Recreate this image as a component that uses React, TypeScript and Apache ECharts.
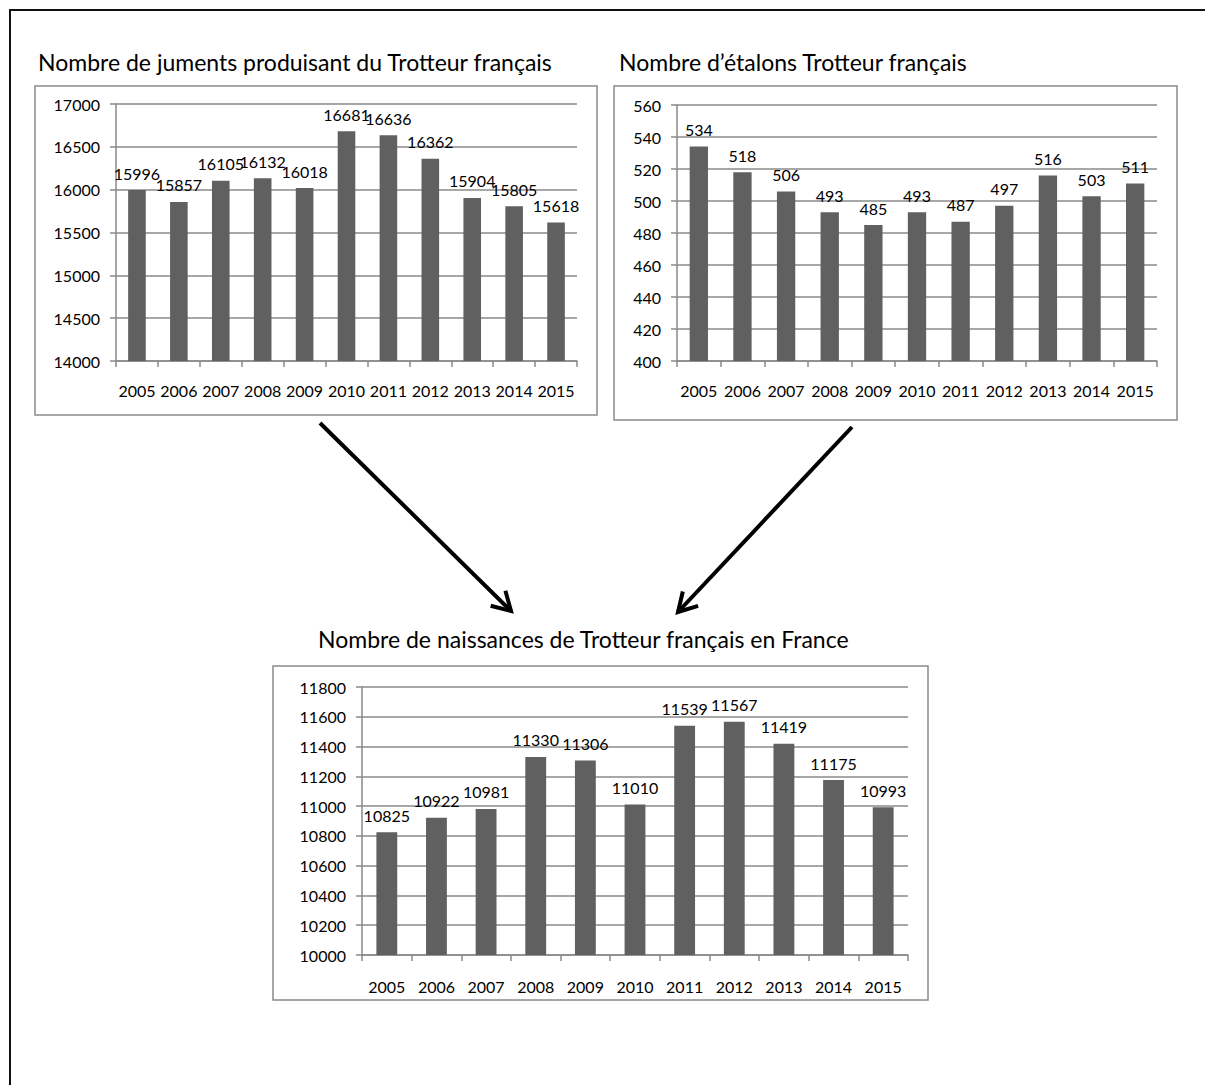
import React, { useEffect, useRef } from "react";
import * as echarts from "echarts";

const years = ["2005", "2006", "2007", "2008", "2009", "2010", "2011", "2012", "2013", "2014", "2015"];
const juments = [15996, 15857, 16105, 16132, 16018, 16681, 16636, 16362, 15904, 15805, 15618];
const etalons = [534, 518, 506, 493, 485, 493, 487, 497, 516, 503, 511];
const naissances = [10825, 10922, 10981, 11330, 11306, 11010, 11539, 11567, 11419, 11175, 10993];

const titleJuments = "Nombre de juments produisant du Trotteur français";
const titleEtalons = "Nombre d’étalons Trotteur français";
const titleNaissances = "Nombre de naissances de Trotteur français en France";

const axisMins = [14000, 400, 10000];
const axisMaxs = [17000, 560, 11800];
const axisSteps = [500, 20, 200];

const FONT = "Lato, 'Open Sans', sans-serif";
const GRID_COLOR = "#8a8a8a";
const BAR_COLOR = "#606060";
const LABEL_SIZE = 16;

function arrowHead(x1: number, y1: number, x2: number, y2: number, len: number, angDeg: number) {
  const dx = x1 - x2;
  const dy = y1 - y2;
  const d = Math.sqrt(dx * dx + dy * dy);
  const ux = dx / d;
  const uy = dy / d;
  const a = (angDeg * Math.PI) / 180;
  const c = Math.cos(a);
  const s = Math.sin(a);
  const w1 = [x2 + len * (c * ux - s * uy), y2 + len * (s * ux + c * uy)];
  const w2 = [x2 + len * (c * ux + s * uy), y2 + len * (-s * ux + c * uy)];
  return [w1, [x2, y2], w2];
}

export default function App() {
  const ref = useRef<HTMLDivElement>(null);

  useEffect(() => {
    document.body.style.margin = "0";
    if (!ref.current) return;
    const chart = echarts.init(ref.current, undefined, { renderer: "svg" });

    const grids = [
      { left: 116, top: 104, width: 461, height: 257 },
      { left: 677, top: 105, width: 480, height: 256 },
      { left: 362, top: 687, width: 546, height: 268 },
    ];
    const datasets = [juments, etalons, naissances];

    const axisLineStyle = { color: GRID_COLOR, width: 1.5 };

    const xAxes = grids.map((_, i) => ({
      type: "category",
      gridIndex: i,
      data: years,
      axisLine: { show: true, lineStyle: axisLineStyle },
      axisTick: { show: true, length: 6, lineStyle: axisLineStyle },
      axisLabel: {
        interval: 0,
        margin: i === 2 ? 23 : 21,
        fontFamily: FONT,
        fontSize: LABEL_SIZE,
        color: "#000",
      },
      splitLine: { show: false },
    }));

    const yAxes = grids.map((_, i) => ({
      type: "value",
      gridIndex: i,
      min: axisMins[i],
      max: axisMaxs[i],
      interval: axisSteps[i],
      axisLine: { show: true, lineStyle: axisLineStyle },
      axisTick: { show: true, length: 6, lineStyle: axisLineStyle },
      axisLabel: {
        margin: 16,
        fontFamily: FONT,
        fontSize: LABEL_SIZE,
        color: "#000",
        formatter: (v: number) => String(v),
      },
      splitLine: { show: true, lineStyle: { color: GRID_COLOR, width: 1.5 } },
    }));

    const series = datasets.map((d, i) => ({
      type: "bar",
      xAxisIndex: i,
      yAxisIndex: i,
      data: d,
      barWidth: "42%",
      itemStyle: { color: BAR_COLOR },
      label: {
        show: true,
        position: "top",
        distance: 9,
        fontFamily: FONT,
        fontSize: LABEL_SIZE,
        color: "#000",
      },
    }));

    const boxStyle = { fill: "none", stroke: GRID_COLOR, lineWidth: 1.5 };
    const arrowStyle = { stroke: "#000", lineWidth: 4, fill: "none", lineCap: "butt", lineJoin: "miter" };
    const titleFont = `23px ${FONT}`;

    const a1 = { x1: 320, y1: 423, x2: 511, y2: 611 };
    const a2 = { x1: 852, y1: 427, x2: 678, y2: 612 };

    const graphic = [
      { type: "line", shape: { x1: 9, y1: 10, x2: 1205, y2: 10 }, style: { stroke: "#111", lineWidth: 2 } },
      { type: "line", shape: { x1: 10, y1: 10, x2: 10, y2: 1085 }, style: { stroke: "#111", lineWidth: 2 } },
      { type: "rect", shape: { x: 35, y: 86, width: 562, height: 329 }, style: boxStyle },
      { type: "rect", shape: { x: 614, y: 86, width: 563, height: 334 }, style: boxStyle },
      { type: "rect", shape: { x: 273, y: 666, width: 655, height: 334 }, style: boxStyle },
      {
        type: "text",
        x: 38,
        y: 62,
        style: { text: titleJuments, font: titleFont, fill: "#000", verticalAlign: "middle" },
      },
      {
        type: "text",
        x: 619,
        y: 62,
        style: { text: titleEtalons, font: titleFont, fill: "#000", verticalAlign: "middle" },
      },
      {
        type: "text",
        x: 318,
        y: 639,
        style: { text: titleNaissances, font: titleFont, fill: "#000", verticalAlign: "middle" },
      },
      { type: "line", shape: a1, style: arrowStyle },
      { type: "polyline", shape: { points: arrowHead(a1.x1, a1.y1, a1.x2, a1.y2, 21, 30) }, style: arrowStyle },
      { type: "line", shape: a2, style: arrowStyle },
      { type: "polyline", shape: { points: arrowHead(a2.x1, a2.y1, a2.x2, a2.y2, 21, 30) }, style: arrowStyle },
    ];

    chart.setOption({
      animation: false,
      backgroundColor: "#ffffff",
      grid: grids,
      xAxis: xAxes,
      yAxis: yAxes,
      series,
      graphic,
    });

    return () => {
      chart.dispose();
    };
  }, []);

  return (
    <div
      ref={ref}
      style={{ position: "absolute", left: 0, top: 0, width: 1205, height: 1085 }}
    />
  );
}
